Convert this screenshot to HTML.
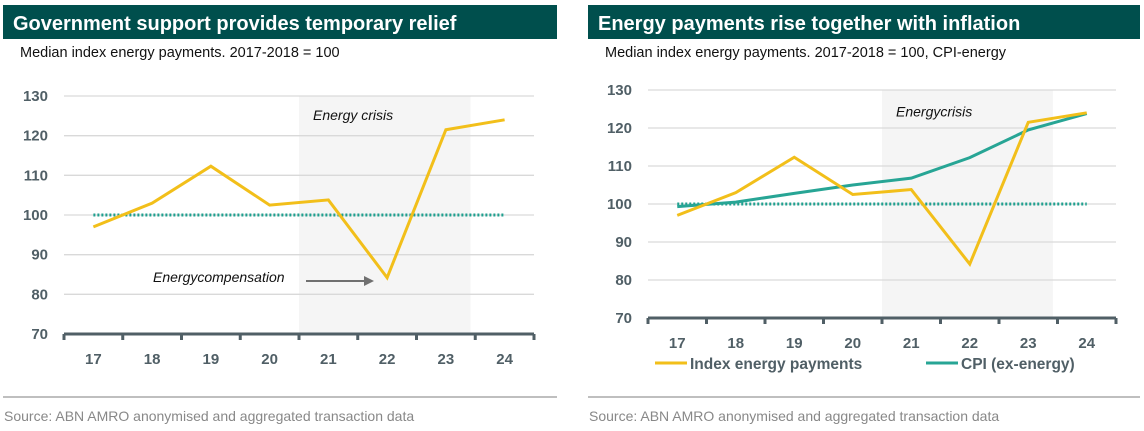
<!DOCTYPE html>
<html><head><meta charset="utf-8"><style>
body{margin:0;background:#fff;width:1144px;height:431px;overflow:hidden;font-family:"Liberation Sans",sans-serif}
svg{position:absolute;left:0;top:0}
</style></head><body>
<svg width="1144" height="431">
<g id="c1"></g>
<g id="c2"></g>
</svg>
<script>
const years=["17","18","19","20","21","22","23","24"];
const energyPayments=[97,103,112.3,102.5,103.8,84.2,121.5,124];
const cpiExEnergy=[99.3,100.5,102.8,105,106.8,112.2,119.5,123.8];
const baseline=[100,100,100,100,100,100,100,100];
const yTicks=[70,80,90,100,110,120,130];
const crisisStart=4;
const NS="http://www.w3.org/2000/svg";
const YEL="#f2bf1a",TEAL="#1fa08f",AX="#505f66",HDR="#004f4d";
function mk(p,t,a,txt){const e=document.createElementNS(NS,t);for(const k in a)e.setAttribute(k,a[k]);if(txt!=null)e.textContent=txt;p.appendChild(e);return e;}
function chart(g,o){
  const x=i=>o.x0+(i+0.5)*(o.x1-o.x0)/years.length;
  const xb=i=>o.x0+i*(o.x1-o.x0)/years.length;
  const y=v=>o.yb-(v-70)*(o.yb-o.yt)/60;
  let e=mk(g,"rect",{x:o.hx,y:5,width:o.hw,height:34,fill:HDR});
  
  e=mk(g,"text",{x:o.hx+10,y:30,fill:"#fff","font-size":"20","font-weight":"bold"},o.title);
  
  e=mk(g,"text",{x:o.hx+17,y:57,fill:"#111","font-size":"14.5"},o.sub);
  
  e=mk(g,"rect",{x:xb(crisisStart),y:y(130),width:xb(crisisStart+2.92)-xb(crisisStart),height:y(70)-y(130),fill:"#f5f5f5"});
  
  yTicks.forEach(v=>{
    if(v>70){const l=mk(g,"line",{x1:o.x0,x2:o.x1,y1:y(v),y2:y(v),stroke:"#d9d9d9","stroke-width":"1.3"});
    }
    const t=mk(g,"text",{x:o.x0-16,y:y(v)+5,"text-anchor":"end",fill:AX,"font-size":"15","font-weight":"bold"},String(v));
    
  });
  e=mk(g,"line",{x1:o.x0,x2:o.x1,y1:y(70),y2:y(70),stroke:AX,"stroke-width":"3"});
  
  for(let i=0;i<=years.length;i++){const t=mk(g,"line",{x1:xb(i),x2:xb(i),y1:y(70),y2:y(70)+6,stroke:AX,"stroke-width":"3"});
    }
  years.forEach((yr,i)=>{const t=mk(g,"text",{x:x(i),y:y(70)+o.lab,"text-anchor":"middle",fill:AX,"font-size":"15","font-weight":"bold"},yr);
    });
  e=mk(g,"text",{x:o.cx,y:y(o.cy),fill:"#111","font-size":"14","font-style":"italic"},o.crisis);
  
  const pts=a=>a.map((v,i)=>x(i)+","+y(v)).join(" ");
  e=mk(g,"polyline",{points:pts(baseline),fill:"none",stroke:TEAL,"stroke-width":"3","stroke-dasharray":"2 2"});
  
  if(o.cpi){e=mk(g,"polyline",{points:pts(cpiExEnergy),fill:"none",stroke:"#27a595","stroke-width":"3"});
    }
  e=mk(g,"polyline",{points:pts(energyPayments),fill:"none",stroke:YEL,"stroke-width":"3","stroke-linejoin":"miter"});
  
  e=mk(g,"line",{x1:o.hx,x2:o.hx+o.hw,y1:397,y2:397,stroke:"#bfbfbf","stroke-width":"2"});
  
  e=mk(g,"text",{x:o.hx+1,y:421,fill:"#888","font-size":"14"},"Source: ABN AMRO anonymised and aggregated transaction data");
  
  return {x,y};
}
const g1=document.getElementById("c1"),g2=document.getElementById("c2");
chart(g1,{hx:3,hw:554,x0:64,x1:534,yt:96,yb:334,lab:30,title:"Government support provides temporary relief",sub:"Median index energy payments. 2017-2018 = 100",cx:313,cy:124,crisis:"Energy crisis"});
let e=mk(g1,"text",{x:153,y:282,fill:"#111","font-size":"14","font-style":"italic"},"Energycompensation");

e=mk(g1,"line",{x1:306,x2:366,y1:281,y2:281,stroke:"#707070","stroke-width":"2"});

e=mk(g1,"polygon",{points:"364,276 374,281 364,286",fill:"#707070"});

chart(g2,{hx:588,hw:552,x0:648,x1:1116,yt:90,yb:318,lab:30,cpi:true,title:"Energy payments rise together with inflation",sub:"Median index energy payments. 2017-2018 = 100, CPI-energy",cx:896,cy:123,crisis:"Energycrisis"});
e=mk(g2,"line",{x1:655,x2:687,y1:363,y2:363,stroke:YEL,"stroke-width":"3"});

e=mk(g2,"text",{x:690,y:369,fill:AX,"font-size":"15.5","font-weight":"bold"},"Index energy payments");

e=mk(g2,"line",{x1:926,x2:958,y1:363,y2:363,stroke:"#27a595","stroke-width":"3"});

e=mk(g2,"text",{x:961,y:369,fill:AX,"font-size":"15.5","font-weight":"bold"},"CPI (ex-energy)");

</script>
</body></html>
